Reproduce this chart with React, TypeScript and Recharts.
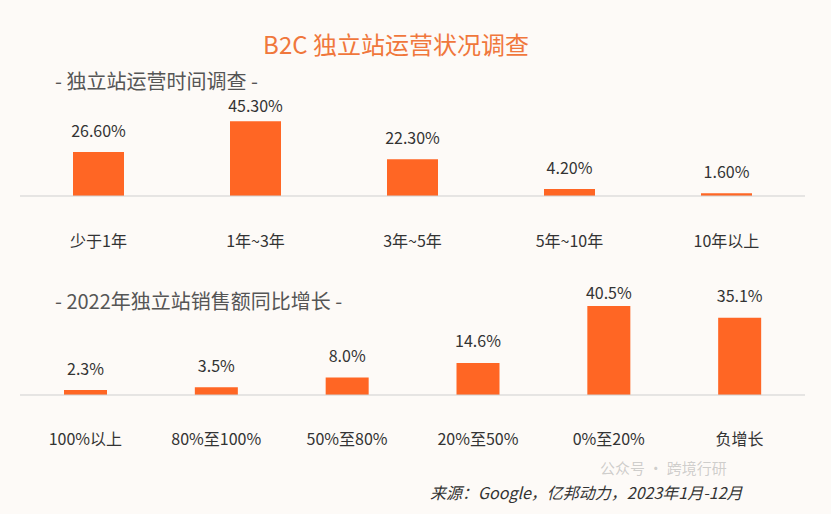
import React from "react";
import { BarChart, Bar, XAxis, YAxis, LabelList } from "recharts";

const title = "B2C 独立站运营状况调查";
const subtitle1 = "- 独立站运营时间调查 -";
const subtitle2 = "- 2022年独立站销售额同比增长 -";
const sourceText = "来源：Google，亿邦动力，2023年1月-12月";
const watermarkTop = "公众号 · 跨境行研";

const yearsCategories = ["少于1年", "1年~3年", "3年~5年", "5年~10年", "10年以上"];
const yearsValues = [26.6, 45.3, 22.3, 4.2, 1.6];

const growthCategories = ["100%以上", "80%至100%", "50%至80%", "20%至50%", "0%至20%", "负增长"];
const growthValues = [2.3, 3.5, 8.0, 14.6, 40.5, 35.1];

const yearsData = yearsCategories.map((name, i) => ({ name, value: yearsValues[i] }));
const growthData = growthCategories.map((name, i) => ({ name, value: growthValues[i] }));

const FONT = '"Noto Sans CJK SC", "Noto Sans", sans-serif';
const BAR = "#ff6624";
const TEXT = "#333333";

const CatTick = (props: any) => {
  const { x, y, payload } = props;
  return (
    <text x={x} y={y} dy={11} textAnchor="middle" fill={TEXT} fontSize={16} fontFamily={FONT}>
      {payload.value}
    </text>
  );
};

const Empty = () => <g />;

// value label drawn above the bar, kept inside the plot area like the source chart does
const makeLabel = (digits: number, gap: number, minCenter: number) => (props: any) => {
  const { x, y, width, value } = props;
  const cx = Number(x) + Number(width) / 2;
  const cy = Math.max(Number(y) - gap, minCenter);
  return (
    <text
      x={cx}
      y={cy}
      dy="0.35em"
      textAnchor="middle"
      fill={TEXT}
      fontSize={16}
      fontFamily={FONT}
    >
      {`${Number(value).toFixed(digits)}%`}
    </text>
  );
};

export default function App() {
  return (
    <div
      style={{
        position: "absolute",
        left: 0,
        top: 0,
        width: 831,
        height: 514,
        background: "#fdfaf7",
        fontFamily: FONT,
        overflow: "hidden",
      }}
    >
      <div
        style={{
          position: "absolute",
          left: 0,
          width: 792,
          top: 28,
          textAlign: "center",
          fontSize: 24,
          color: "#f0773c",
          lineHeight: "32px",
        }}
      >
        {title}
      </div>
      <div style={{ position: "absolute", left: 55, top: 72, fontSize: 20, color: "#555", lineHeight: "18px" }}>
        {subtitle1}
      </div>
      <div style={{ position: "absolute", left: 55, top: 292, fontSize: 20, color: "#555", lineHeight: "18px" }}>
        {subtitle2}
      </div>

      <div style={{ position: "absolute", left: 0, top: 0 }}>
        <BarChart width={831} height={262} data={yearsData} margin={{ top: 97, right: 26, bottom: 0, left: 20 }}>
          <YAxis hide domain={[0, 60]} />
          <XAxis
            xAxisId="grid"
            type="number"
            domain={[0, 5]}
            ticks={[0, 2, 4, 5]}
            axisLine={false}
            tickLine={{ stroke: "#cfcfcf" }}
            tickSize={5}
            tick={Empty}
            height={0}
          />
          <XAxis
            dataKey="name"
            axisLine={{ stroke: "#cfcfcf" }}
            tickLine={false}
            tickSize={0}
            tickMargin={40}
            tick={CatTick}
            height={66}
            interval={0}
          />
          <Bar dataKey="value" fill={BAR} barSize={51} isAnimationActive={false}>
            <LabelList dataKey="value" content={makeLabel(2, 21, 106)} />
          </Bar>
        </BarChart>
      </div>

      <div style={{ position: "absolute", left: 0, top: 260 }}>
        <BarChart width={831} height={197} data={growthData} margin={{ top: 25, right: 26, bottom: 0, left: 20 }}>
          <YAxis hide domain={[0, 50]} />
          <XAxis
            xAxisId="grid"
            type="number"
            domain={[0, 6]}
            ticks={[0, 1, 2, 3, 4, 5, 6]}
            axisLine={false}
            tickLine={{ stroke: "#cfcfcf" }}
            tickSize={5}
            tick={Empty}
            height={0}
          />
          <XAxis
            dataKey="name"
            axisLine={{ stroke: "#cfcfcf" }}
            tickLine={false}
            tickSize={0}
            tickMargin={39}
            tick={CatTick}
            height={62}
            interval={0}
          />
          <Bar dataKey="value" fill={BAR} barSize={43} isAnimationActive={false}>
            <LabelList dataKey="value" content={makeLabel(1, 21, 33)} />
          </Bar>
        </BarChart>
      </div>

      <div
        style={{
          position: "absolute",
          left: 600,
          top: 459,
          fontSize: 15,
          color: "rgba(150,150,150,0.45)",
          lineHeight: "17px",
          whiteSpace: "nowrap",
        }}
      >
        {watermarkTop}
      </div>
      <div
        style={{
          position: "absolute",
          left: 430,
          top: 481,
          fontSize: 16,
          color: "#333",
          fontStyle: "italic",
          lineHeight: "22px",
          whiteSpace: "nowrap",
        }}
      >
        {sourceText}
      </div>
    </div>
  );
}
